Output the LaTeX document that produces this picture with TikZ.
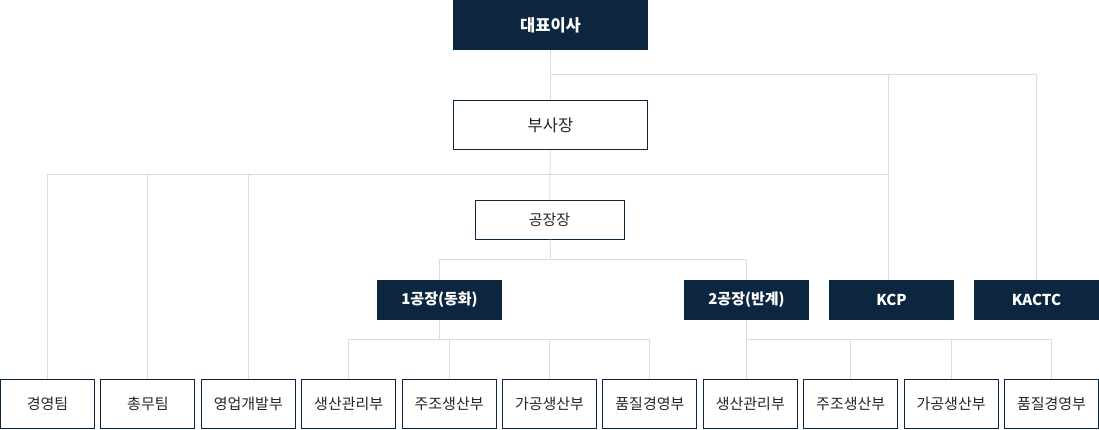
\documentclass[tikz,border=0pt]{standalone}
\usepackage{fontspec}
\setmainfont{Noto Sans CJK KR}
\usepackage{xcolor}
\usepackage{tikz}
\usetikzlibrary{positioning, calc}

\definecolor{navy}{HTML}{0C2640}
\definecolor{linegray}{HTML}{DCDCDC}
\definecolor{textgray}{HTML}{262626}

\begin{document}
\begin{tikzpicture}[
    x=1pt, y=-1pt,
    dark/.style={fill=navy, text=white, inner sep=0pt, align=center, font=\fontsize{15}{17}\selectfont\bfseries},
    light/.style={draw=navy, line width=1pt, fill=white, text=textgray, inner sep=0pt, align=center, font=\fontsize{15}{17}\selectfont},
    dept/.style={light, minimum width=94pt, minimum height=49pt},
    plant/.style={dark, minimum width=125pt, minimum height=40pt},
    conn/.style={draw=linegray, line width=1pt}
]
    \useasboundingbox (0,0) rectangle (1099,429);

    % top of the chart
    \node[dark, minimum width=195pt, minimum height=50pt, font=\fontsize{16.5}{18}\selectfont\bfseries] at (550.5,25) (ceo) {대표이사};
    \node[light, minimum width=194pt, minimum height=49pt, font=\fontsize{16.5}{18}\selectfont] at (550.5,125) (vp) {부사장};
    \node[light, minimum width=149pt, minimum height=39pt] at (549.5,219.5) (head) {공장장};

    % plants and affiliates
    \node[plant] at (439.5,300) (plantA) {1공장(동화)};
    \node[plant] at (746.5,300) (plantB) {2공장(반계)};
    \node[plant] at (891.5,300) (kcp) {KCP};
    \node[plant] at (1036.5,300) (kactc) {KACTC};

    % departments
    \node[dept] at (47.5,404) (mgmt) {경영팀};
    \node[dept] at (147.9,404) (admin) {총무팀};
    \node[dept] at (248.3,404) (sales) {영업개발부};
    \node[dept] at (348.7,404) (prodA) {생산관리부};
    \node[dept] at (449.1,404) (castA) {주조생산부};
    \node[dept] at (549.5,404) (machA) {가공생산부};
    \node[dept] at (649.9,404) (qualA) {품질경영부};
    \node[dept] at (750.3,404) (prodB) {생산관리부};
    \node[dept] at (850.7,404) (castB) {주조생산부};
    \node[dept] at (951.1,404) (machB) {가공생산부};
    \node[dept] at (1051.5,404) (qualB) {품질경영부};

    % bus points
    \coordinate (busTop) at (550.5,74);
    \coordinate (busMid) at (550.5,174);
    \coordinate (busPlant) at (550.5,259);
    \coordinate (busA) at (439.5,339);
    \coordinate (busB) at (746.5,339);

    % connectors
    \draw[conn] (ceo) -- (vp);
    \draw[conn] (busTop) -| ([xshift=-3.5pt]kcp.north);
    \draw[conn] (busTop) -| (kactc);
    \draw[conn] (vp) -- (head);
    \draw[conn] (mgmt) |- ([xshift=-3.5pt]busMid -| kcp);
    \draw[conn] (admin) -- (admin |- busMid);
    \draw[conn] (sales) -- (sales |- busMid);
    \draw[conn] (head) -- (busPlant);
    \draw[conn] (busPlant) -| (plantA);
    \draw[conn] (busPlant) -| (plantB);

    \draw[conn] (plantA) -- (busA);
    \draw[conn] (prodA) |- (busA -| qualA) -- (qualA);
    \draw[conn] (castA) -- (castA |- busA);
    \draw[conn] (machA) -- (machA |- busA);

    \draw[conn] (plantB) -- (plantB |- prodB.north);
    \draw[conn] (busB) -| (qualB);
    \draw[conn] (castB) -- (castB |- busB);
    \draw[conn] (machB) -- (machB |- busB);
\end{tikzpicture}
\end{document}
